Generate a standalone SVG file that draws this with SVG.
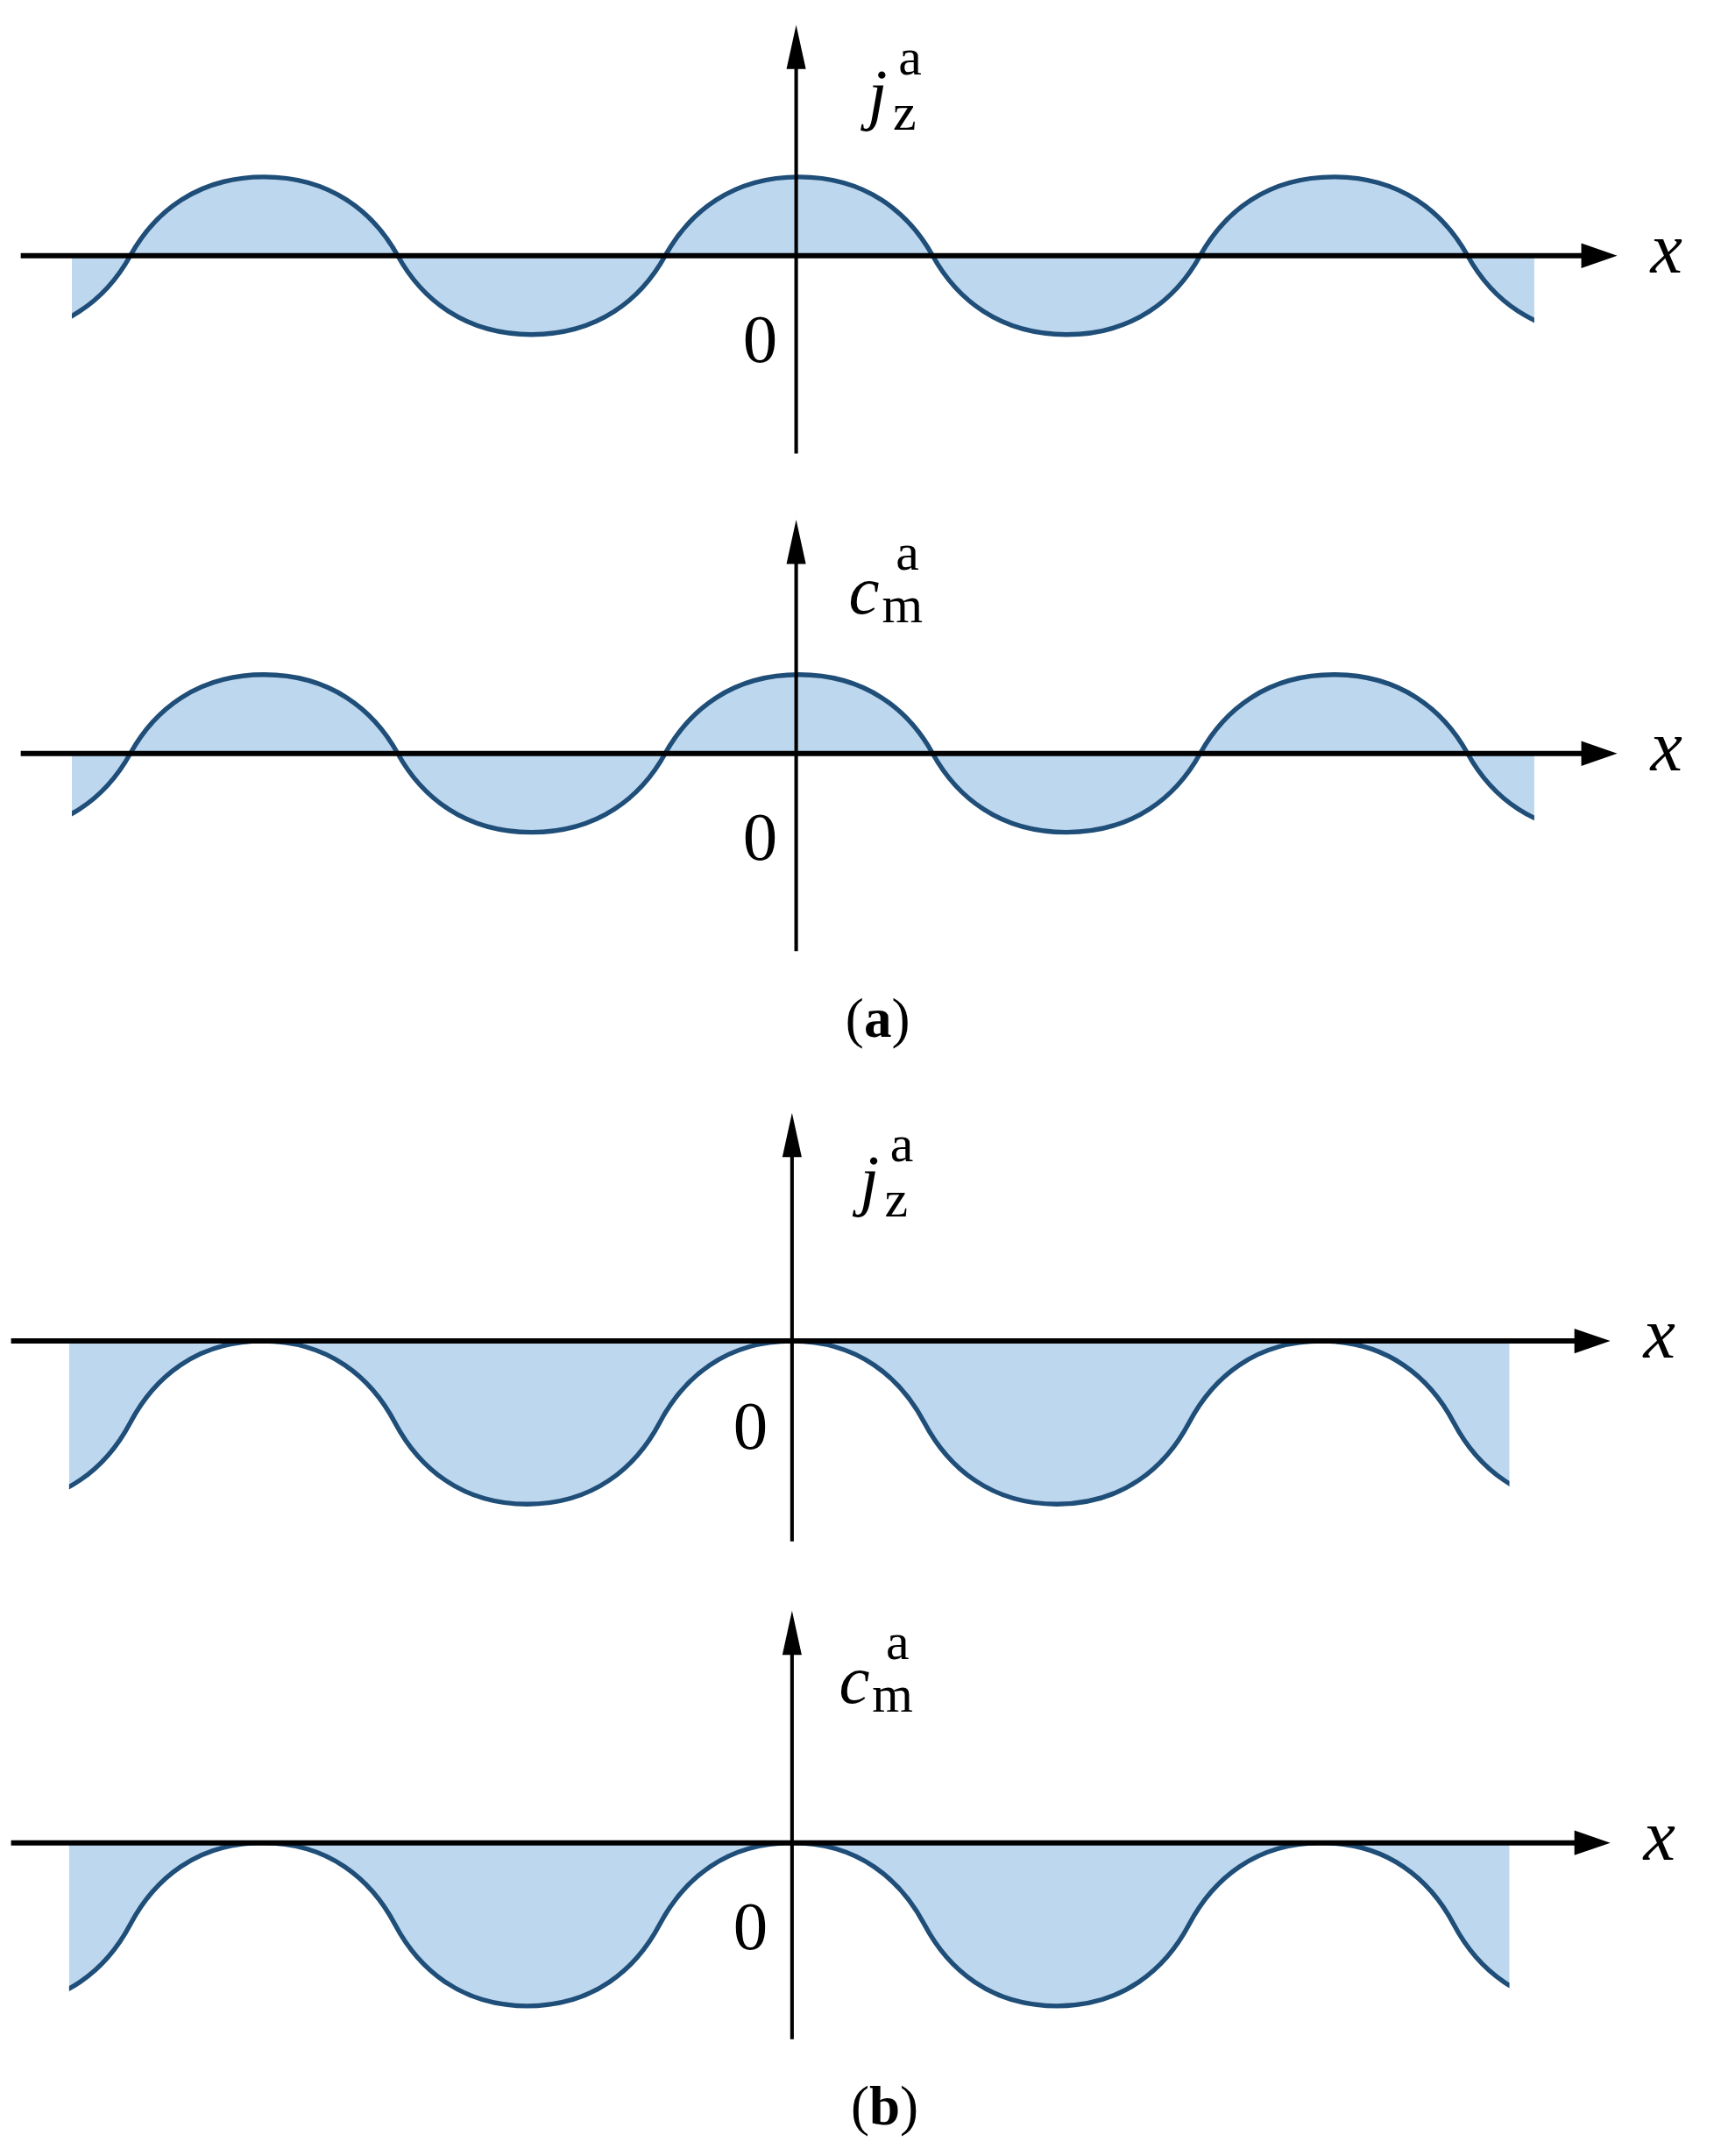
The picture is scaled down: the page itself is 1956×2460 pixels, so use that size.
<svg xmlns="http://www.w3.org/2000/svg" width="1956" height="2460" viewBox="0 0 1956 2460">
<style>
.ax{stroke:#000;fill:none}
.cv{stroke:#1f4e79;stroke-width:3.4;fill:none}
.fl{fill:#bdd7ee;stroke:none}
.t{font-family:"Liberation Serif",serif;fill:#000}
.i{font-style:italic}
</style>
<defs>
<clipPath id="ca"><rect x="52" y="0" width="1058" height="1560"/></clipPath>
<clipPath id="cb"><rect x="50" y="0" width="1042" height="1560"/></clipPath>
<path id="wa" d="M-2.5,242 c48.35,0 79.35,-25.6 96.75,-57 c17.4,-31.4 48.4,-57 96.75,-57 c48.35,0 79.35,25.6 96.75,57 c17.4,31.4 48.4,57 96.75,57 c48.35,0 79.35,-25.6 96.75,-57 c17.4,-31.4 48.4,-57 96.75,-57 c48.35,0 79.35,25.6 96.75,57 c17.4,31.4 48.4,57 96.75,57 c48.35,0 79.35,-25.6 96.75,-57 c17.4,-31.4 48.4,-57 96.75,-57 c48.35,0 79.35,25.6 96.75,57 c17.4,31.4 48.4,57 96.75,57"/>
<path id="fa" d="M-2.5,242 c48.35,0 79.35,-25.6 96.75,-57 c17.4,-31.4 48.4,-57 96.75,-57 c48.35,0 79.35,25.6 96.75,57 c17.4,31.4 48.4,57 96.75,57 c48.35,0 79.35,-25.6 96.75,-57 c17.4,-31.4 48.4,-57 96.75,-57 c48.35,0 79.35,25.6 96.75,57 c17.4,31.4 48.4,57 96.75,57 c48.35,0 79.35,-25.6 96.75,-57 c17.4,-31.4 48.4,-57 96.75,-57 c48.35,0 79.35,25.6 96.75,57 c17.4,31.4 48.4,57 96.75,57 L1158.5,185 L-2.5,185 Z"/>
<path id="wb" d="M-1.5,1088 c47.85,0 78.55,-26.55 95.75,-59 c17.2,-32.45 47.9,-59 95.75,-59 c47.85,0 78.55,26.55 95.75,59 c17.2,32.45 47.9,59 95.75,59 c47.85,0 78.55,-26.55 95.75,-59 c17.2,-32.45 47.9,-59 95.75,-59 c47.85,0 78.55,26.55 95.75,59 c17.2,32.45 47.9,59 95.75,59 c47.85,0 78.55,-26.55 95.75,-59 c17.2,-32.45 47.9,-59 95.75,-59 c47.85,0 78.55,26.55 95.75,59 c17.2,32.45 47.9,59 95.75,59"/>
<path id="fb" d="M-1.5,1088 c47.85,0 78.55,-26.55 95.75,-59 c17.2,-32.45 47.9,-59 95.75,-59 c47.85,0 78.55,26.55 95.75,59 c17.2,32.45 47.9,59 95.75,59 c47.85,0 78.55,-26.55 95.75,-59 c17.2,-32.45 47.9,-59 95.75,-59 c47.85,0 78.55,26.55 95.75,59 c17.2,32.45 47.9,59 95.75,59 c47.85,0 78.55,-26.55 95.75,-59 c17.2,-32.45 47.9,-59 95.75,-59 c47.85,0 78.55,26.55 95.75,59 c17.2,32.45 47.9,59 95.75,59 L1147.5,970 L-1.5,970 Z"/>
</defs>
<rect width="1956" height="2460" fill="#fff"/>
<g transform="scale(1.5774)">
<g id="panel-a1">
<g clip-path="url(#ca)"><use href="#fa" class="fl"/><use href="#wa" class="cv"/></g>
</g>
<g id="panel-a2" transform="translate(0,360)">
<g clip-path="url(#ca)"><use href="#fa" class="fl"/><use href="#wa" class="cv"/></g>
</g>
<g id="panel-b1">
<g clip-path="url(#cb)"><use href="#fb" class="fl"/><use href="#wb" class="cv"/></g>
</g>
<g id="panel-b2" transform="translate(0,363)">
<g clip-path="url(#cb)"><use href="#fb" class="fl"/><use href="#wb" class="cv"/></g>
</g>
<g id="connectors">
<line class="ax" x1="15" y1="185" x2="1148" y2="185" stroke-width="3.8"/>
<polygon points="1170,185 1144,176 1144,194"/>
<line class="ax" x1="576" y1="328" x2="576" y2="40" stroke-width="2.6"/>
<polygon points="576,18 569,50 583,50"/>
<line class="ax" x1="15" y1="545" x2="1148" y2="545" stroke-width="3.8"/>
<polygon points="1170,545 1144,536 1144,554"/>
<line class="ax" x1="576" y1="688" x2="576" y2="400" stroke-width="2.6"/>
<polygon points="576,376 569,408 583,408"/>
<line class="ax" x1="8" y1="970" x2="1143" y2="970" stroke-width="3.8"/>
<polygon points="1165,970 1139,961 1139,979"/>
<line class="ax" x1="573" y1="1115" x2="573" y2="828" stroke-width="2.6"/>
<polygon points="573,805 566,837 580,837"/>
<line class="ax" x1="8" y1="1333" x2="1143" y2="1333" stroke-width="3.8"/>
<polygon points="1165,1333 1139,1324 1139,1342"/>
<line class="ax" x1="573" y1="1475" x2="573" y2="1188" stroke-width="2.6"/>
<polygon points="573,1165 566,1197 580,1197"/>
</g>
<g id="labels" class="t">
<text x="628" y="84" font-size="50" class="i">j</text>
<text x="646" y="94" font-size="38">z</text>
<text x="650" y="54" font-size="38">a</text>
<text x="1194" y="197" font-size="52" class="i">x</text>
<text x="550" y="262" font-size="50" text-anchor="middle">0</text>
<text x="614" y="444" font-size="50" class="i">c</text>
<text x="638" y="450" font-size="38">m</text>
<text x="648" y="412" font-size="38">a</text>
<text x="1194" y="557" font-size="52" class="i">x</text>
<text x="550" y="622" font-size="50" text-anchor="middle">0</text>
<text x="635" y="750" font-size="40" text-anchor="middle">(<tspan font-weight="bold">a</tspan>)</text>
<text x="622" y="870" font-size="50" class="i">j</text>
<text x="640" y="880" font-size="38">z</text>
<text x="644" y="840" font-size="38">a</text>
<text x="1189" y="982" font-size="52" class="i">x</text>
<text x="543" y="1048" font-size="50" text-anchor="middle">0</text>
<text x="607" y="1232" font-size="50" class="i">c</text>
<text x="631" y="1238" font-size="38">m</text>
<text x="641" y="1200" font-size="38">a</text>
<text x="1189" y="1345" font-size="52" class="i">x</text>
<text x="543" y="1410" font-size="50" text-anchor="middle">0</text>
<text x="640" y="1537" font-size="40" text-anchor="middle">(<tspan font-weight="bold">b</tspan>)</text>
</g>
</g>
</svg>
